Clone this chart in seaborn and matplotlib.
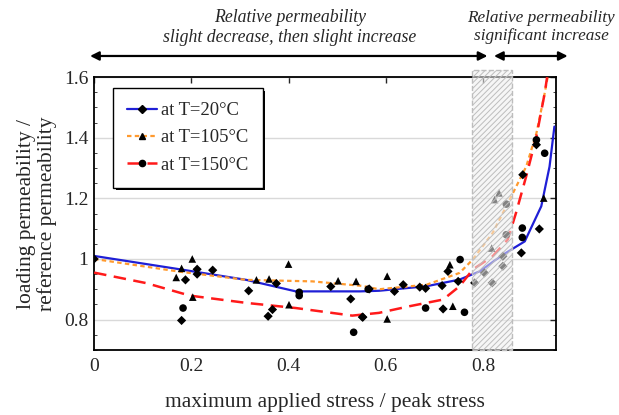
import numpy as np
import pandas as pd
import matplotlib
matplotlib.use("Agg")
import matplotlib.pyplot as plt
import seaborn as sns
from matplotlib.lines import Line2D
from matplotlib.ticker import FormatStrFormatter, AutoMinorLocator

# fitted trend curves
x_20 = [0.0, 0.176, 0.313, 0.415, 0.547, 0.586, 0.684, 0.752, 0.793, 0.841, 0.886, 0.92, 0.937, 0.947]
y_20 = [1.01, 0.966, 0.931, 0.893, 0.893, 0.895, 0.91, 0.932, 0.959, 1.014, 1.058, 1.174, 1.305, 1.437]

x_105 = [0.0, 0.176, 0.313, 0.449, 0.552, 0.586, 0.684, 0.752, 0.779, 0.82, 0.855, 0.889, 0.91, 0.927, 0.934]
y_105 = [1.0, 0.958, 0.931, 0.926, 0.911, 0.9, 0.915, 0.954, 0.998, 1.086, 1.196, 1.305, 1.415, 1.547, 1.608]

x_150 = [0.0, 0.108, 0.197, 0.313, 0.415, 0.531, 0.586, 0.649, 0.718, 0.752, 0.779, 0.82, 0.851, 0.868, 0.889, 0.91, 0.927, 0.932]
y_150 = [0.955, 0.92, 0.879, 0.855, 0.838, 0.813, 0.822, 0.844, 0.866, 0.91, 0.965, 1.009, 1.064, 1.152, 1.273, 1.404, 1.547, 1.60]

# measured points
pts_20_x = [0.0, 0.188, 0.212, 0.212, 0.244, 0.18, 0.318, 0.375, 0.358, 0.367, 0.487, 0.528, 0.552,
            0.553, 0.566, 0.618, 0.636, 0.67, 0.682, 0.716, 0.718, 0.728, 0.749, 0.783, 0.803, 0.819,
            0.841, 0.841, 0.882, 0.879, 0.916, 0.91]
pts_20_y = [1.0, 0.931, 0.966, 0.95, 0.963, 0.797, 0.895, 0.919, 0.811, 0.833, 0.909, 0.868, 0.808,
            0.808, 0.901, 0.893, 0.915, 0.907, 0.903, 0.912, 0.835, 0.959, 0.926, 0.921, 0.954, 0.921,
            1.009, 0.976, 1.278, 1.02, 1.099, 1.377]

pts_105_x = [0.18, 0.169, 0.202, 0.203, 0.334, 0.36, 0.4, 0.401, 0.502, 0.539, 0.603, 0.603, 0.738,
             0.732, 0.818, 0.824, 0.833, 0.925]
pts_105_y = [0.969, 0.939, 1.0, 0.874, 0.931, 0.934, 0.983, 0.849, 0.928, 0.926, 0.943, 0.802, 0.844,
             0.981, 1.036, 1.196, 1.218, 1.201]

pts_150_x = [0.183, 0.422, 0.422, 0.564, 0.534, 0.682, 0.762, 0.753, 0.848, 0.848, 0.881, 0.881, 0.91, 0.927]
pts_150_y = [0.838, 0.89, 0.879, 0.9, 0.758, 0.838, 0.824, 0.998, 1.181, 1.08, 1.102, 1.071, 1.393, 1.349]

labels = ["at T=20°C", "at T=105°C", "at T=150°C"]
xticks = [0, 0.2, 0.4, 0.6, 0.8]
yticks = [0.8, 1.0, 1.2, 1.4, 1.6]

sns.set_style("white")
plt.rcParams["font.family"] = ["Liberation Serif", "DejaVu Serif"]
plt.rcParams["hatch.linewidth"] = 0.7

lines = pd.concat([
    pd.DataFrame({"x": x_20, "y": y_20, "T": labels[0]}),
    pd.DataFrame({"x": x_105, "y": y_105, "T": labels[1]}),
    pd.DataFrame({"x": x_150, "y": y_150, "T": labels[2]}),
])

fig = plt.figure(figsize=(6.19, 4.15), dpi=100)
ax = fig.add_axes([0.152, 0.157, 0.746, 0.657])

ax.grid(True, axis="y", color="#d9d9d9", lw=1)
ax.set_axisbelow(True)

styles = {labels[0]: ("#1f1fd6", "-", 1.6), labels[1]: ("#ff9a2e", (0, (2, 1.5)), 1.6),
          labels[2]: ("#ff1a1a", (0, (5, 3)), 1.8)}
for lab in labels:
    c, ls, lw = styles[lab]
    sns.lineplot(data=lines[lines["T"] == lab], x="x", y="y", sort=False, estimator=None,
                 color=c, linestyle=ls, lw=lw, ax=ax, zorder=3)

sns.scatterplot(x=pts_20_x, y=pts_20_y, marker="D", s=22, color="black", edgecolor="none", ax=ax, zorder=4)
sns.scatterplot(x=pts_105_x, y=pts_105_y, marker="^", s=30, color="black", edgecolor="none", ax=ax, zorder=4)
sns.scatterplot(x=pts_150_x, y=pts_150_y, marker="o", s=30, color="black", edgecolor="none", ax=ax, zorder=4)

# hatched transition band
ax.axvspan(0.778, 0.86, ymin=0, ymax=1.025, facecolor=(0.94, 0.94, 0.94, 0.55),
           edgecolor="#bdbdbd", hatch="//////", ls="--", lw=1, zorder=5, clip_on=False)

ax.set_xlim(0, 0.95)
ax.set_ylim(0.7, 1.6)
ax.set_xticks(xticks)
ax.set_yticks(yticks)
ax.xaxis.set_major_formatter(FormatStrFormatter("%g"))
ax.yaxis.set_major_formatter(FormatStrFormatter("%g"))
ax.yaxis.set_minor_locator(AutoMinorLocator(4))
ax.tick_params(direction="in", top=True, right=True, labelsize=14, length=4, width=1, pad=6)
ax.tick_params(axis="y", pad=4)
ax.tick_params(which="minor", direction="in", left=True, right=True, length=2.5)
for s in ax.spines.values():
    s.set_linewidth(1.3)
    s.set_color("black")

ax.set_xlabel("maximum applied stress / peak stress", fontsize=15.5, labelpad=13)
ax.set_ylabel("loading permeability /\nreference permeability", fontsize=15.5, labelpad=5,
              linespacing=1.1)

handles = [
    Line2D([], [], color="#1f1fd6", lw=1.6, marker="D", ms=4, mfc="black", mec="black"),
    Line2D([], [], color="#ff9a2e", lw=1.6, ls=(0, (2, 1.5)), marker="^", ms=5, mfc="black", mec="black"),
    Line2D([], [], color="#ff1a1a", lw=1.8, ls=(0, (5, 3)), marker="o", ms=4.5, mfc="black", mec="black"),
]
leg = ax.legend(handles, labels, loc="upper left", bbox_to_anchor=(0.041, 0.96), fontsize=13.4,
                frameon=True, fancybox=False, shadow={"color": "black", "alpha": 1, "ec": "none"},
                edgecolor="black", labelspacing=0.55, handlelength=1.6, handletextpad=0.25,
                borderpad=0.75, borderaxespad=0, framealpha=1)
leg.get_frame().set_linewidth(1)
leg.set_zorder(6)

# region annotations above the axes
ax.annotate("", xy=(-0.014, 1.67), xytext=(0.815, 1.67), annotation_clip=False,
            arrowprops=dict(arrowstyle="<|-|>", color="black", lw=1.6, mutation_scale=13))
ax.annotate("", xy=(0.817, 1.67), xytext=(0.98, 1.67), annotation_clip=False,
            arrowprops=dict(arrowstyle="<|-|>", color="black", lw=1.6, mutation_scale=13))
ax.text(0.403, 1.765, "Relative permeability\nslight decrease, then slight increase",
        ha="center", va="center", style="italic", fontsize=12.8, linespacing=1.2, clip_on=False)
ax.text(0.92, 1.765, "Relative permeability\nsignificant increase",
        ha="center", va="center", style="italic", fontsize=12.4, linespacing=1.2, clip_on=False)

fig.savefig("out.png", dpi=100)
